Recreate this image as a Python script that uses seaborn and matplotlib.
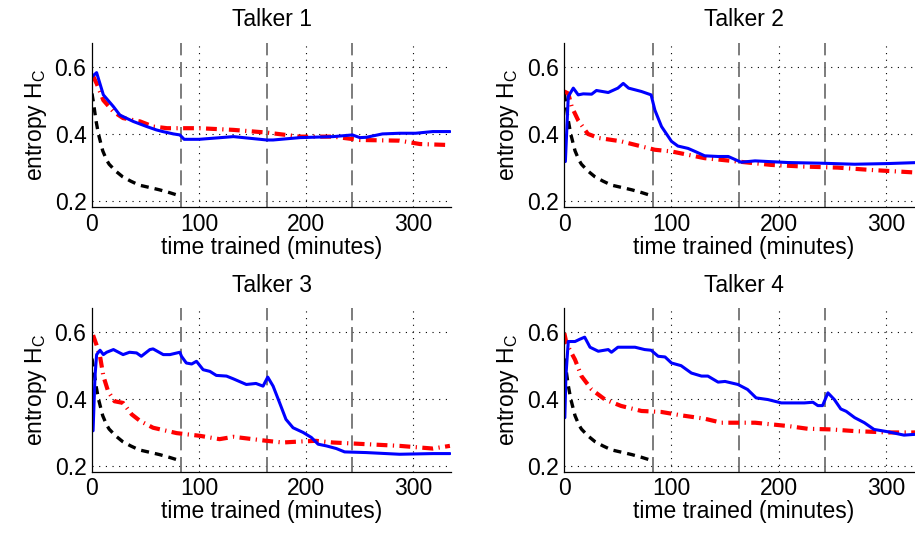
import numpy as np
import pandas as pd
import matplotlib
matplotlib.use("Agg")
import matplotlib.pyplot as plt
import seaborn as sns

# ---------------- data ----------------
titles = ["Talker 1", "Talker 2", "Talker 3", "Talker 4"]
session_bounds = [83, 163, 243]

# shared black dashed curve
base_x = [0, 1.5, 3.7, 6, 10, 13.7, 16, 22, 28.5, 36, 44, 55, 63, 72, 80]
base_y = [0.52, 0.49, 0.44, 0.40, 0.35, 0.322, 0.31, 0.29, 0.273, 0.26, 0.248, 0.24, 0.234, 0.226, 0.218]

# Talker 1
t1_blue_x = [0, 4.3, 10.6, 20, 26, 38.5, 51, 60, 66, 76, 82, 86, 100, 132, 163, 169, 194, 225, 243, 250, 256, 271, 287, 302, 318, 334]
t1_blue_y = [0.57, 0.582, 0.516, 0.481, 0.456, 0.437, 0.422, 0.412, 0.407, 0.40, 0.397, 0.384, 0.384, 0.392, 0.382, 0.382, 0.389, 0.392, 0.397, 0.389, 0.39, 0.40, 0.402, 0.402, 0.407, 0.407]
t1_red_x = [1, 4.3, 10.6, 20, 29, 45, 57, 70, 100, 132, 163, 194, 225, 250, 287, 306, 334]
t1_red_y = [0.572, 0.55, 0.50, 0.466, 0.447, 0.437, 0.422, 0.417, 0.417, 0.412, 0.404, 0.392, 0.392, 0.382, 0.38, 0.37, 0.367]

# Talker 2
t2_blue_x = [1, 3.7, 8.4, 13, 17.7, 25.5, 30, 41, 50, 55, 60, 72, 81, 84.5, 90.7, 100, 106, 115.5, 122, 131, 143.5, 153, 165, 178, 209, 240, 271, 302, 330]
t2_blue_y = [0.318, 0.511, 0.536, 0.516, 0.519, 0.518, 0.529, 0.523, 0.536, 0.55, 0.536, 0.526, 0.516, 0.471, 0.422, 0.378, 0.364, 0.357, 0.348, 0.335, 0.333, 0.333, 0.316, 0.32, 0.315, 0.313, 0.31, 0.312, 0.315]
t2_red_x = [0, 3.7, 7, 13, 22, 32, 53, 84.5, 100, 131, 162, 193, 224, 255, 286, 330]
t2_red_y = [0.526, 0.52, 0.48, 0.44, 0.40, 0.388, 0.378, 0.353, 0.348, 0.328, 0.318, 0.308, 0.303, 0.30, 0.293, 0.285]

# Talker 3
t3_blue_x = [1, 2.8, 4.3, 7.5, 10.6, 13.7, 20, 29, 35, 41.6, 46, 54, 57, 66.5, 72.7, 82, 83.5, 88, 93, 97.5, 103.7, 110, 116, 125.5, 131.7, 144, 153, 159.6, 164, 169, 175, 181, 187.6, 197, 204.7, 211, 218.6, 228, 235.7, 256, 287, 318, 334]
t3_blue_y = [0.305, 0.468, 0.532, 0.545, 0.532, 0.539, 0.547, 0.532, 0.539, 0.537, 0.527, 0.547, 0.549, 0.532, 0.532, 0.539, 0.527, 0.507, 0.504, 0.512, 0.487, 0.482, 0.47, 0.468, 0.46, 0.443, 0.446, 0.438, 0.465, 0.438, 0.389, 0.339, 0.314, 0.30, 0.285, 0.265, 0.26, 0.252, 0.242, 0.24, 0.235, 0.237, 0.237]
t3_red_x = [1, 4.3, 7.5, 10.6, 15, 21, 29, 37, 45, 57, 79, 100.6, 119, 132, 150, 163, 178, 194, 209, 225, 256, 287, 318, 334]
t3_red_y = [0.59, 0.56, 0.527, 0.468, 0.423, 0.393, 0.388, 0.354, 0.334, 0.314, 0.298, 0.29, 0.28, 0.287, 0.28, 0.275, 0.27, 0.273, 0.275, 0.27, 0.265, 0.26, 0.252, 0.26]

# Talker 4
t4_blue_x = [0.5, 1.5, 3.7, 10, 14.6, 19, 24, 31.7, 41, 44, 50, 66, 75, 81, 87.6, 94, 100, 109, 118.6, 128, 134, 143.5, 150, 162, 171, 179, 190, 202.5, 224, 232, 236.6, 241, 246, 252, 258, 263, 271, 280, 289, 302, 317, 330]
t4_blue_y = [0.344, 0.468, 0.571, 0.571, 0.578, 0.584, 0.554, 0.542, 0.547, 0.539, 0.554, 0.554, 0.547, 0.545, 0.527, 0.525, 0.507, 0.499, 0.477, 0.468, 0.468, 0.45, 0.452, 0.443, 0.428, 0.403, 0.398, 0.388, 0.388, 0.39, 0.38, 0.38, 0.418, 0.398, 0.37, 0.363, 0.344, 0.329, 0.309, 0.302, 0.292, 0.295]
t4_red_x = [0, 2, 5, 10, 16, 25.5, 38, 53, 72, 90.7, 109, 131, 146.6, 178, 209, 227, 249, 271, 302, 330]
t4_red_y = [0.596, 0.566, 0.547, 0.517, 0.468, 0.428, 0.398, 0.379, 0.364, 0.361, 0.351, 0.341, 0.329, 0.329, 0.319, 0.311, 0.309, 0.304, 0.30, 0.30]

blue_x = [t1_blue_x, t2_blue_x, t3_blue_x, t4_blue_x]
blue_y = [t1_blue_y, t2_blue_y, t3_blue_y, t4_blue_y]
red_x = [t1_red_x, t2_red_x, t3_red_x, t4_red_x]
red_y = [t1_red_y, t2_red_y, t3_red_y, t4_red_y]

x_ticks = [0, 100, 200, 300]
y_ticks = [0.2, 0.4, 0.6]

# ---------------- styling ----------------
sns.set_theme(style="white")
plt.rcParams["font.family"] = ["Liberation Sans", "DejaVu Sans"]
plt.rcParams["mathtext.fontset"] = "custom"
plt.rcParams["mathtext.rm"] = "Liberation Sans"
plt.rcParams["mathtext.it"] = "Liberation Sans"
plt.rcParams["mathtext.default"] = "regular"

fig = plt.figure(figsize=(9.15, 5.33), dpi=100)
W, H = 915.0, 533.0
aw = 359.0
positions = [
    (92, 43, 207),
    (564.3, 43, 207),
    (92, 308.3, 471.7),
    (564.3, 308.3, 471.7),
]

FS = 16.5
for i, (lx, top, bot) in enumerate(positions):
    ax = fig.add_axes([lx / W, 1 - bot / H, aw / W, (bot - top) / H])
    ax.set_xlim(0, 335)
    ax.set_ylim(0.183, 0.670)
    ax.set_xticks(x_ticks)
    ax.set_yticks(y_ticks)
    ax.set_xticklabels([str(v) for v in x_ticks])
    ax.set_yticklabels([f"{v:.1f}" for v in y_ticks])
    ax.tick_params(direction="in", length=3, width=0.8, labelsize=FS, pad=4, colors="black")
    for s in ["top", "right"]:
        ax.spines[s].set_visible(False)
    for s in ["left", "bottom"]:
        ax.spines[s].set_color("black")
        ax.spines[s].set_linewidth(0.9)

    # dotted grid (skip the x=0 line)
    for yv in y_ticks:
        ax.axhline(yv, color="black", lw=0.8, ls=(0, (1, 5)), zorder=0.5)
    for xv in x_ticks[1:]:
        ax.axvline(xv, color="black", lw=0.8, ls=(0, (1, 5)), zorder=0.5)

    for xb in session_bounds:
        ax.axvline(xb, color="#666666", lw=1.2, ls=(0, (9, 4)), zorder=0.8)

    sns.lineplot(x=base_x, y=base_y, ax=ax, color="black", lw=2.4,
                 linestyle=(0, (2.4, 1.8)), sort=False, estimator=None)
    sns.lineplot(x=red_x[i], y=red_y[i], ax=ax, color="#ff0000", lw=3.0,
                 linestyle=(0, (2.6, 1.3, 0.3, 1.3)), sort=False, estimator=None)
    sns.lineplot(x=blue_x[i], y=blue_y[i], ax=ax, color="#0000ff", lw=2.2,
                 sort=False, estimator=None)

    ax.set_title(titles[i], fontsize=FS, pad=12, color="black")
    ax.set_xlabel("time trained (minutes)", fontsize=FS, labelpad=0, color="black")
    ax.set_ylabel(r"entropy H$_{C}$", fontsize=FS, labelpad=4, color="black")

fig.savefig("out.png", dpi=100)
